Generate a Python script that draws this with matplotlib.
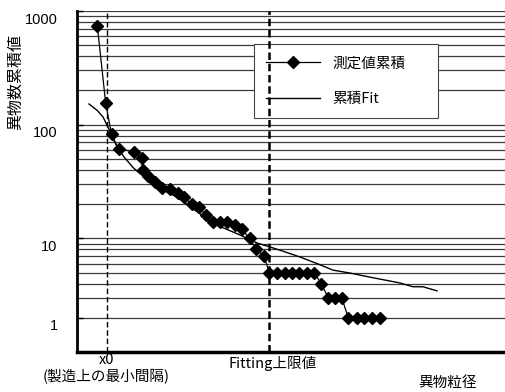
import numpy as np
import matplotlib
matplotlib.use("Agg")
import matplotlib.pyplot as plt
from matplotlib.ticker import LogLocator, NullFormatter
from matplotlib.transforms import ScaledTranslation

plt.rcParams['font.family'] = ['Noto Sans CJK JP', 'DejaVu Sans']

# Measured cumulative counts (particle size in arbitrary units)
meas_x = [2.03, 2.87, 3.45, 4.15, 5.65, 6.45, 6.55, 7.05, 7.8, 8.45,
          9.25, 10.1, 10.7, 11.47, 12.23, 12.85, 13.6, 14.3, 14.97, 15.8,
          16.47, 17.25, 17.93, 18.7, 19.23, 19.97, 20.75, 21.5, 22.23, 22.97,
          23.73, 24.4, 25.13, 25.8, 26.47, 27.13, 27.95, 28.7, 29.5, 30.3]
meas_y = [741, 154, 82, 61, 58, 51, 40, 35, 31, 28,
          27, 25, 23, 20, 19, 16, 14, 14, 14, 13,
          12, 10, 8, 7, 5, 5, 5, 5, 5, 5,
          5, 4, 3, 3, 3, 2, 2, 2, 2, 2]

# Fitted cumulative curve
fit_x = [1.2, 2.0, 2.6, 3.1, 3.5, 4.1, 4.7, 5.6, 6.3, 7.3, 8.5, 10.0, 11.3,
         12.6, 13.5, 14.7, 16.3, 18.0, 19.3, 20.8, 22.3, 24.1, 25.6, 27.3,
         29.6, 32.3, 33.6, 34.6, 36.0]
fit_y = [152, 134, 117, 95, 78, 62, 52, 42, 37, 33, 27, 23, 19,
         15.7, 13.6, 12.3, 10.7, 9.1, 8.4, 7.6, 6.85, 5.95, 5.25, 4.95,
         4.5, 4.05, 3.75, 3.75, 3.45]

x0 = 3.0
fit_limit = 19.2

ytick_vals = [2, 10, 100, 1000]
ytick_labels = ['1', '10', '100', '1000']

fig = plt.figure(figsize=(5.06, 3.92), dpi=100)
ax = fig.add_axes([77/506, 40/392, 429/506, 341/392])

ax.plot(meas_x, meas_y, color='black', lw=0.9, marker='D', markersize=5.8,
        markerfacecolor='black', markeredgecolor='black', label='測定値累積', zorder=3)
ax.plot(fit_x, fit_y, color='black', lw=1.0, label='累積Fit', zorder=3)

ax.axvline(x0, color='black', lw=1.0, linestyle=(0, (4, 2)), zorder=6)
ax.axvline(fit_limit, color='black', lw=1.8, linestyle=(0, (3, 1.5)), zorder=6)

ax.set_yscale('log')
ax.set_ylim(1, 1000)
ax.set_xlim(0, 42.9)
ax.yaxis.set_minor_locator(LogLocator(base=10, subs=np.arange(1, 10)))
ax.yaxis.set_minor_formatter(NullFormatter())
ax.set_yticks(ytick_vals, ytick_labels)
ax.grid(True, axis='y', which='both', color='#3c3c3c', lw=0.9)
ax.set_axisbelow(True)
ax.set_xticks([])

ax.tick_params(axis='y', which='major', direction='in', length=4, width=1,
               pad=14, labelsize=10.5)
ax.tick_params(axis='y', which='minor', length=0)
for lab in ax.get_yticklabels():
    lab.set_fontfamily('Liberation Sans')
    lab.set_transform(lab.get_transform() + ScaledTranslation(0, -0.07, fig.dpi_scale_trans))

for s in ['top', 'right']:
    ax.spines[s].set_visible(False)
ax.spines['left'].set_linewidth(2)
ax.spines['bottom'].set_linewidth(2.5)

leg = ax.legend(loc='upper left', bbox_to_anchor=(0.4126, 0.66, 0.429, 0.243),
                mode='expand', borderaxespad=0, fontsize=10.5, handlelength=3.7,
                handletextpad=0.8, labelspacing=1.45, borderpad=0.85,
                fancybox=False, framealpha=1, edgecolor='#444444')
leg.get_frame().set_linewidth(0.8)

xt = ax.get_xaxis_transform()
ax.text(x0, -0.022, 'x0', transform=xt, ha='center', va='center', fontsize=10.5)
ax.text(2.9, -0.072, '(製造上の最小間隔)', transform=xt, ha='center', va='center', fontsize=10.5)
ax.text(19.6, -0.034, 'Fitting上限値', transform=xt, ha='center', va='center', fontsize=10.5)
ax.text(37.0, -0.091, '異物粒径', transform=xt, ha='center', va='center', fontsize=10.5)

fig.text(15/506, 1 - 82/392, '異物数累積値', rotation=90, ha='center', va='center', fontsize=11.5)

fig.savefig('out.png', dpi=100)
